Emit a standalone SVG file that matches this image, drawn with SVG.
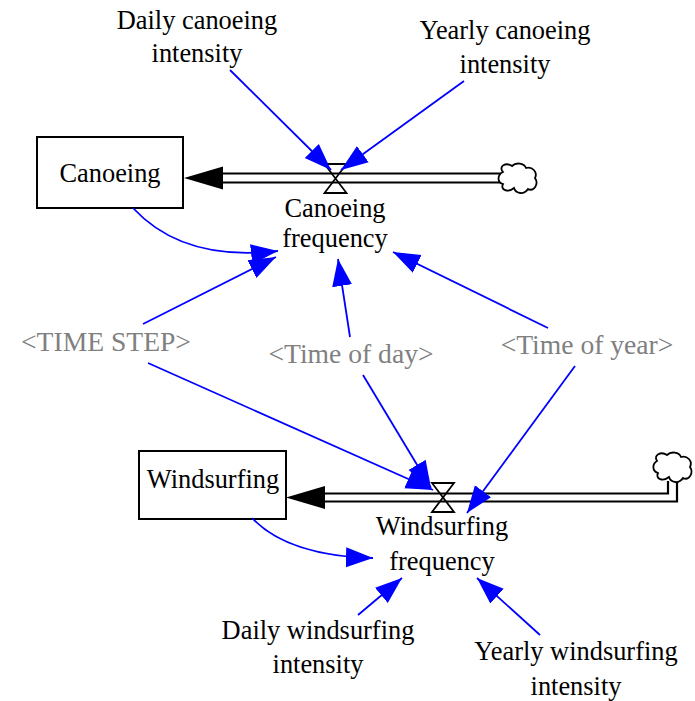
<svg xmlns="http://www.w3.org/2000/svg" width="695" height="701" viewBox="0 0 695 701">
  <style>
    .lbl { font-family: 'Liberation Serif', 'Times New Roman', Times, 'DejaVu Serif', serif; font-size: 26.4px; fill: #000; text-anchor: middle; }
    .shadow { fill: #808080; font-size: 27.6px; }
    .stock { fill: #fff; stroke: #000; stroke-width: 2; }
    .pipe { fill: none; stroke: #000; stroke-width: 2.2; }
    .valve { fill: none; stroke: #000; stroke-width: 1.8; stroke-linejoin: miter; }
    .cloud { fill: #fff; stroke: #000; stroke-width: 1.8; }
    .link { fill: none; stroke: #0000ff; stroke-width: 1.8; marker-end: url(#blueHead); }
    .flowHead { fill: #000; }
  </style>
  <defs>
    <marker id="blueHead" markerUnits="userSpaceOnUse" markerWidth="28" markerHeight="22" viewBox="0 0 28 22" refX="27" refY="11" orient="auto">
      <path d="M0,1 L27,11 L0,21 Z" fill="#0000ff"/>
    </marker>
  </defs>

  <!-- material flows (pipes, valves, clouds) -->
  <g id="flows">
    <!-- canoeing inflow -->
    <line class="pipe" x1="222" y1="173.5" x2="501" y2="173.5"/>
    <line class="pipe" x1="222" y1="182.5" x2="501" y2="182.5"/>
    <path class="flowHead" d="M184,178 L223,166.5 L223,189.5 Z"/>
    <!-- windsurfing inflow -->
    <path class="pipe" d="M324,493.5 L668,493.5 L668,481"/>
    <path class="pipe" d="M324,501.5 L677,501.5 L677,481"/>
    <path class="flowHead" d="M286,497.5 L325,486 L325,509 Z"/>
  </g>

  <g id="cloud-canoeing">
    <path class="cloud" d="M503,172 C498,166 506,162 512,166 C516,162 524,163 526,168 C532,166 538,172 535,178 C539,184 534,192 528,189 C524,195 516,194 514,188 C508,193 500,190 503,184 C497,182 497,175 503,172 Z"/>
  </g>
  <g id="cloud-windsurfing">
    <path class="cloud" d="M657,461 C653,455 661,451 667,455 C671,451 679,452 681,457 C687,455 693,461 690,467 C694,473 689,481 683,478 C679,484 671,483 669,477 C663,482 655,479 658,473 C652,471 652,464 657,461 Z"/>
  </g>

  <g id="canoeing-frequency">
    <path class="valve" d="M324.5,164 L346.5,164 L324.5,193 L346.5,193 Z"/>
    <text class="lbl" x="335" y="217">Canoeing</text>
    <text class="lbl" x="335" y="247">frequency</text>
  </g>

  <g id="windsurfing-frequency">
    <path class="valve" d="M432,483 L454,483 L432,512 L454,512 Z"/>
    <text class="lbl" x="442" y="535">Windsurfing</text>
    <text class="lbl" x="442" y="570">frequency</text>
  </g>

  <g id="canoeing">
    <rect class="stock" x="37" y="137" width="146" height="71"/>
    <text class="lbl" x="110" y="182">Canoeing</text>
  </g>

  <g id="windsurfing">
    <rect class="stock" x="139" y="451" width="147" height="68"/>
    <text class="lbl" x="213" y="488">Windsurfing</text>
  </g>

  <g id="daily-canoeing-intensity">
    <text class="lbl" x="197" y="29">Daily canoeing</text>
    <text class="lbl" x="197" y="62">intensity</text>
  </g>

  <g id="yearly-canoeing-intensity">
    <text class="lbl" x="505" y="39">Yearly canoeing</text>
    <text class="lbl" x="505" y="73">intensity</text>
  </g>

  <g id="time-step">
    <text class="lbl shadow" x="106" y="351">&lt;TIME STEP&gt;</text>
  </g>

  <g id="time-of-day">
    <text class="lbl shadow" x="351" y="363">&lt;Time of day&gt;</text>
  </g>

  <g id="time-of-year">
    <text class="lbl shadow" x="587" y="354">&lt;Time of year&gt;</text>
  </g>

  <g id="daily-windsurfing-intensity">
    <text class="lbl" x="318" y="639">Daily windsurfing</text>
    <text class="lbl" x="318" y="673">intensity</text>
  </g>

  <g id="yearly-windsurfing-intensity">
    <text class="lbl" x="576" y="660">Yearly windsurfing</text>
    <text class="lbl" x="576" y="695">intensity</text>
  </g>

  <!-- information links -->
  <g id="connectors">
    <path class="link" d="M230,70 L331,170"/>
    <path class="link" d="M464,81 L341,170"/>
    <path class="link" d="M133,208 Q183,262 278,251"/>
    <path class="link" d="M143,324 L276,257"/>
    <path class="link" d="M350,337 L338,259"/>
    <path class="link" d="M548,328 L393,252"/>
    <path class="link" d="M148,363 L433,490"/>
    <path class="link" d="M363,375 L431,488"/>
    <path class="link" d="M575,366 L467,513"/>
    <path class="link" d="M252,518 Q288,556 373,558"/>
    <path class="link" d="M358,615 L402,578"/>
    <path class="link" d="M540,635 L477,578"/>
  </g>
</svg>
